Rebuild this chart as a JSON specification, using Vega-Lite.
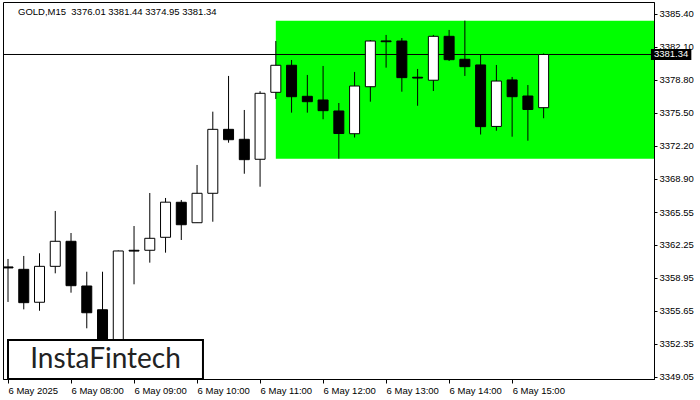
{
  "$schema": "https://vega.github.io/schema/vega-lite/v6.json",
  "width": 651,
  "height": 377,
  "autosize": "none",
  "padding": {"left": 3, "top": 2, "right": 46, "bottom": 21},
  "background": "white",
  "config": {
    "view": {"stroke": "black", "strokeWidth": 1},
    "font": "Liberation Sans",
    "axis": {"title": null, "grid": false, "labelFontSize": 9.5, "labelFont": "Liberation Sans", "labelColor": "black", "tickColor": "black", "domainColor": "black", "labelOverlap": false, "labelFlush": false, "labelPadding": 2},
    "axisX": {"labelAlign": "left", "tickSize": 4},
    "axisY": {"tickSize": 3}
  },
  "title": {"text": "GOLD,M15\u00a0 3376.01 3381.44 3374.95 3381.34", "anchor": "start", "frame": "group", "orient": "top", "offset": 0, "dx": 15, "dy": 14, "baseline": "top", "fontSize": 9.5, "fontWeight": "normal", "font": "Liberation Sans", "color": "black"},
  "data": {"values": [
    {"t": "2025-05-06T07:00:00Z", "o": 3360.05, "h": 3360.85, "l": 3356.54, "c": 3359.95},
    {"t": "2025-05-06T07:15:00Z", "o": 3359.81, "h": 3361.15, "l": 3355.80, "c": 3356.47},
    {"t": "2025-05-06T07:30:00Z", "o": 3356.51, "h": 3361.42, "l": 3355.66, "c": 3360.11},
    {"t": "2025-05-06T07:45:00Z", "o": 3360.11, "h": 3365.66, "l": 3359.41, "c": 3362.62},
    {"t": "2025-05-06T08:00:00Z", "o": 3362.62, "h": 3363.45, "l": 3357.47, "c": 3358.17},
    {"t": "2025-05-06T08:15:00Z", "o": 3358.14, "h": 3359.57, "l": 3353.90, "c": 3355.46},
    {"t": "2025-05-06T08:30:00Z", "o": 3355.76, "h": 3359.57, "l": 3349.60, "c": 3350.40},
    {"t": "2025-05-06T08:45:00Z", "o": 3350.40, "h": 3361.70, "l": 3349.80, "c": 3361.65},
    {"t": "2025-05-06T09:00:00Z", "o": 3361.72, "h": 3364.15, "l": 3358.31, "c": 3361.64},
    {"t": "2025-05-06T09:15:00Z", "o": 3361.72, "h": 3367.46, "l": 3360.48, "c": 3362.92},
    {"t": "2025-05-06T09:30:00Z", "o": 3363.02, "h": 3366.96, "l": 3361.48, "c": 3366.54},
    {"t": "2025-05-06T09:45:00Z", "o": 3366.53, "h": 3366.76, "l": 3362.75, "c": 3364.28},
    {"t": "2025-05-06T10:00:00Z", "o": 3364.48, "h": 3370.27, "l": 3364.48, "c": 3367.43},
    {"t": "2025-05-06T10:15:00Z", "o": 3367.43, "h": 3375.61, "l": 3364.58, "c": 3373.84},
    {"t": "2025-05-06T10:30:00Z", "o": 3373.84, "h": 3379.19, "l": 3372.50, "c": 3372.80},
    {"t": "2025-05-06T10:45:00Z", "o": 3372.84, "h": 3375.78, "l": 3369.39, "c": 3370.80},
    {"t": "2025-05-06T11:00:00Z", "o": 3370.84, "h": 3377.66, "l": 3368.09, "c": 3377.45},
    {"t": "2025-05-06T11:15:00Z", "o": 3377.55, "h": 3382.69, "l": 3376.88, "c": 3380.26},
    {"t": "2025-05-06T11:30:00Z", "o": 3380.26, "h": 3380.79, "l": 3375.51, "c": 3377.11},
    {"t": "2025-05-06T11:45:00Z", "o": 3377.15, "h": 3379.29, "l": 3375.51, "c": 3376.61},
    {"t": "2025-05-06T12:00:00Z", "o": 3376.78, "h": 3380.19, "l": 3374.85, "c": 3375.71},
    {"t": "2025-05-06T12:15:00Z", "o": 3375.68, "h": 3376.48, "l": 3370.90, "c": 3373.42},
    {"t": "2025-05-06T12:30:00Z", "o": 3373.40, "h": 3379.59, "l": 3373.02, "c": 3378.18},
    {"t": "2025-05-06T12:45:00Z", "o": 3378.11, "h": 3382.79, "l": 3376.61, "c": 3382.69},
    {"t": "2025-05-06T13:00:00Z", "o": 3382.70, "h": 3383.30, "l": 3380.02, "c": 3382.62},
    {"t": "2025-05-06T13:15:00Z", "o": 3382.69, "h": 3382.99, "l": 3377.61, "c": 3379.02},
    {"t": "2025-05-06T13:30:00Z", "o": 3379.06, "h": 3379.89, "l": 3376.20, "c": 3378.98},
    {"t": "2025-05-06T13:45:00Z", "o": 3378.76, "h": 3383.30, "l": 3377.68, "c": 3383.16},
    {"t": "2025-05-06T14:00:00Z", "o": 3383.16, "h": 3383.80, "l": 3380.69, "c": 3380.82},
    {"t": "2025-05-06T14:15:00Z", "o": 3380.86, "h": 3384.73, "l": 3379.19, "c": 3380.12},
    {"t": "2025-05-06T14:30:00Z", "o": 3380.29, "h": 3381.36, "l": 3373.32, "c": 3374.11},
    {"t": "2025-05-06T14:45:00Z", "o": 3374.13, "h": 3380.29, "l": 3373.70, "c": 3378.68},
    {"t": "2025-05-06T15:00:00Z", "o": 3378.79, "h": 3379.09, "l": 3373.10, "c": 3377.11},
    {"t": "2025-05-06T15:15:00Z", "o": 3377.18, "h": 3378.28, "l": 3372.70, "c": 3375.83},
    {"t": "2025-05-06T15:30:00Z", "o": 3376.01, "h": 3381.44, "l": 3374.95, "c": 3381.34}
  ]},
  "layer": [
    {
      "data": {"values": [{}]},
      "mark": {"type": "rect", "color": "#00ff00", "clip": true},
      "encoding": {
        "x": {"datum": {"year": 2025, "month": 5, "date": 6, "hours": 11, "minutes": 15, "utc": true}, "type": "temporal", "scale": {"type": "utc", "domain": [{"year": 2025, "month": 5, "date": 6, "hours": 7, "minutes": 0, "utc": true}, {"year": 2025, "month": 5, "date": 6, "hours": 17, "minutes": 10, "seconds": 19, "utc": true}]}},
        "x2": {"datum": {"year": 2025, "month": 5, "date": 6, "hours": 18, "minutes": 0, "utc": true}},
        "y": {"datum": 3370.90, "type": "quantitative", "scale": {"domain": [3348.82, 3386.60], "zero": false, "nice": false}},
        "y2": {"datum": 3384.73}
      }
    },
    {
      "data": {"values": [{}]},
      "mark": {"type": "rule", "color": "black", "strokeWidth": 1},
      "encoding": {
        "y": {"datum": 3381.34, "type": "quantitative", "scale": {"domain": [3348.82, 3386.60], "zero": false, "nice": false}}
      }
    },
    {
      "mark": {"type": "rule", "color": "black", "strokeWidth": 1, "clip": true},
      "encoding": {
        "x": {
          "field": "t", "type": "temporal",
          "scale": {"type": "utc", "domain": [{"year": 2025, "month": 5, "date": 6, "hours": 7, "minutes": 0, "utc": true}, {"year": 2025, "month": 5, "date": 6, "hours": 17, "minutes": 10, "seconds": 19, "utc": true}]},
          "axis": {
            "values": [
              {"year": 2025, "month": 5, "date": 6, "hours": 7, "utc": true},
              {"year": 2025, "month": 5, "date": 6, "hours": 8, "utc": true},
              {"year": 2025, "month": 5, "date": 6, "hours": 9, "utc": true},
              {"year": 2025, "month": 5, "date": 6, "hours": 10, "utc": true},
              {"year": 2025, "month": 5, "date": 6, "hours": 11, "utc": true},
              {"year": 2025, "month": 5, "date": 6, "hours": 12, "utc": true},
              {"year": 2025, "month": 5, "date": 6, "hours": 13, "utc": true},
              {"year": 2025, "month": 5, "date": 6, "hours": 14, "utc": true},
              {"year": 2025, "month": 5, "date": 6, "hours": 15, "utc": true}
            ],
            "tickCount": 30,
            "labelExpr": "utchours(datum.value) == 7 ? '6 May 2025' : '6 May ' + utcFormat(datum.value, '%H:%M')"
          }
        },
        "y": {
          "field": "l", "type": "quantitative",
          "scale": {"domain": [3348.82, 3386.60], "zero": false, "nice": false},
          "axis": {
            "orient": "right",
            "values": [3385.40, 3382.10, 3378.80, 3375.50, 3372.20, 3368.90, 3365.55, 3362.25, 3358.95, 3355.65, 3352.35, 3349.05],
            "tickCount": 30,
            "format": ".2f"
          }
        },
        "y2": {"field": "h"}
      }
    },
    {
      "mark": {"type": "bar", "size": 10, "stroke": "black", "strokeWidth": 1, "clip": true},
      "encoding": {
        "x": {"field": "t", "type": "temporal", "scale": {"type": "utc", "domain": [{"year": 2025, "month": 5, "date": 6, "hours": 7, "minutes": 0, "utc": true}, {"year": 2025, "month": 5, "date": 6, "hours": 17, "minutes": 10, "seconds": 19, "utc": true}]}},
        "y": {"field": "o", "type": "quantitative", "scale": {"domain": [3348.82, 3386.60], "zero": false, "nice": false}},
        "y2": {"field": "c"},
        "fill": {"condition": {"test": "datum.c > datum.o", "value": "white"}, "value": "black"},
        "opacity": {"value": 1}
      }
    },
    {
      "data": {"values": [{}]},
      "mark": {"type": "rect", "fill": "white", "stroke": "black", "strokeWidth": 2},
      "encoding": {
        "x": {"datum": {"year": 2025, "month": 5, "date": 6, "hours": 7, "minutes": 0, "utc": true}, "type": "temporal", "scale": {"type": "utc", "domain": [{"year": 2025, "month": 5, "date": 6, "hours": 7, "minutes": 0, "utc": true}, {"year": 2025, "month": 5, "date": 6, "hours": 17, "minutes": 10, "seconds": 19, "utc": true}]}},
        "x2": {"datum": {"year": 2025, "month": 5, "date": 6, "hours": 10, "minutes": 5, "seconds": 38, "utc": true}},
        "y": {"datum": 3348.82, "type": "quantitative", "scale": {"domain": [3348.82, 3386.60], "zero": false, "nice": false}},
        "y2": {"datum": 3352.73}
      }
    },
    {
      "data": {"values": [{}]},
      "mark": {"type": "text", "text": "InstaFintech", "font": "Lato", "fontSize": 28, "fontWeight": "normal", "color": "#222222", "align": "center", "baseline": "middle"},
      "encoding": {
        "x": {"datum": {"year": 2025, "month": 5, "date": 6, "hours": 8, "minutes": 32, "seconds": 50, "utc": true}, "type": "temporal", "scale": {"type": "utc", "domain": [{"year": 2025, "month": 5, "date": 6, "hours": 7, "minutes": 0, "utc": true}, {"year": 2025, "month": 5, "date": 6, "hours": 17, "minutes": 10, "seconds": 19, "utc": true}]}},
        "y": {"datum": 3350.77, "type": "quantitative", "scale": {"domain": [3348.82, 3386.60], "zero": false, "nice": false}}
      }
    },
    {
      "data": {"values": [{}]},
      "mark": {"type": "rect", "fill": "black", "clip": false},
      "encoding": {
        "x": {"datum": {"year": 2025, "month": 5, "date": 6, "hours": 17, "minutes": 12, "seconds": 11, "utc": true}, "type": "temporal", "scale": {"type": "utc", "domain": [{"year": 2025, "month": 5, "date": 6, "hours": 7, "minutes": 0, "utc": true}, {"year": 2025, "month": 5, "date": 6, "hours": 17, "minutes": 10, "seconds": 19, "utc": true}]}},
        "x2": {"datum": {"year": 2025, "month": 5, "date": 6, "hours": 17, "minutes": 50, "seconds": 38, "utc": true}},
        "y": {"datum": 3380.79, "type": "quantitative", "scale": {"domain": [3348.82, 3386.60], "zero": false, "nice": false}},
        "y2": {"datum": 3381.89}
      }
    },
    {
      "data": {"values": [{}]},
      "mark": {"type": "text", "text": "3381.34", "font": "Liberation Sans", "fontSize": 9.5, "color": "white", "align": "center", "baseline": "middle", "clip": false},
      "encoding": {
        "x": {"datum": {"year": 2025, "month": 5, "date": 6, "hours": 17, "minutes": 31, "seconds": 24, "utc": true}, "type": "temporal", "scale": {"type": "utc", "domain": [{"year": 2025, "month": 5, "date": 6, "hours": 7, "minutes": 0, "utc": true}, {"year": 2025, "month": 5, "date": 6, "hours": 17, "minutes": 10, "seconds": 19, "utc": true}]}},
        "y": {"datum": 3381.34, "type": "quantitative", "scale": {"domain": [3348.82, 3386.60], "zero": false, "nice": false}}
      }
    }
  ]
}
